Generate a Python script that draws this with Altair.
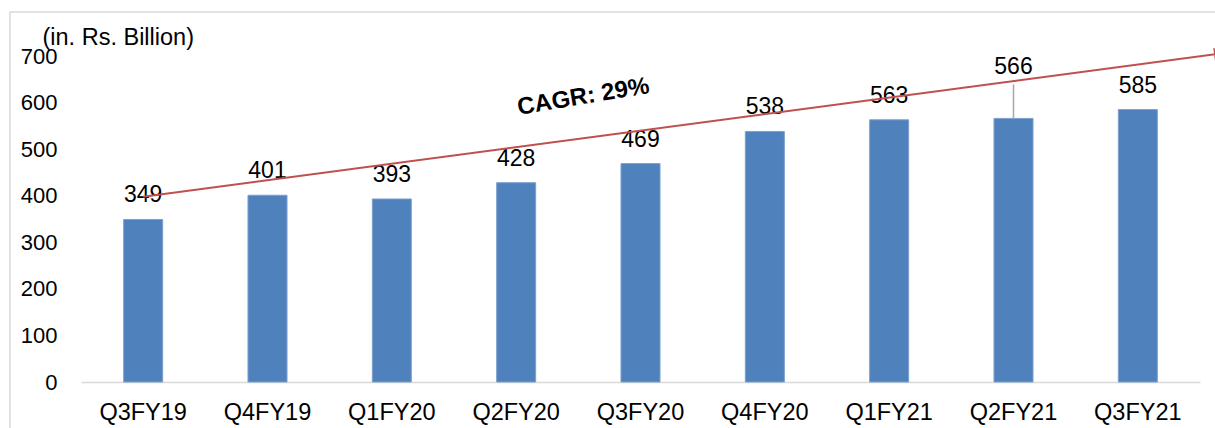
import altair as alt
import pandas as pd

# Quarterly values (Rs. Billion)
quarters = ["Q3FY19", "Q4FY19", "Q1FY20", "Q2FY20", "Q3FY20",
            "Q4FY20", "Q1FY21", "Q2FY21", "Q3FY21"]
values = [349, 401, 393, 428, 469, 538, 563, 566, 585]

# Growth arrow drawn across the bars (position on a 0..9 slot scale, value scale)
trend_pos = [0.5, 9.16]
trend_val = [398, 705]
cagr_text = "CAGR: 29%"
cagr_pos = [4.04]
cagr_val = [612]

FONT = "Liberation Sans"
BLUE = "#4F81BD"
RED = "#C0504D"
GREY = "#D9D9D9"

W, H = 1119, 326
PAD_L, PAD_T = 81, 56

bars_df = pd.DataFrame({"quarter": quarters, "value": values})
trend_df = pd.DataFrame({"pos": trend_pos, "value": trend_val})
cagr_df = pd.DataFrame({"pos": cagr_pos, "value": cagr_val, "label": [cagr_text]})

x_band = alt.X(
    "quarter:N", sort=quarters, title=None,
    scale=alt.Scale(paddingInner=0.686, paddingOuter=0.343),
    axis=alt.Axis(labelAngle=0, ticks=False, tickSize=0, labelPadding=18,
                  domainColor=GREY, domainWidth=1.5, labelFont=FONT,
                  labelFontSize=23.5, labelColor="black", grid=False),
)
y_val = alt.Y(
    "value:Q", title="(in. Rs. Billion)",
    scale=alt.Scale(domain=[0, 700], nice=False),
    axis=alt.Axis(values=list(range(0, 701, 100)), ticks=False, tickSize=0,
                  domain=False, grid=False, labelPadding=24, labelFont=FONT,
                  labelFontSize=22, labelColor="black",
                  titleAngle=0, titleAlign="left", titleBaseline="alphabetic",
                  titleX=-39, titleY=-12, titleFont=FONT, titleFontSize=23.5,
                  titleFontWeight="normal", titleColor="black"),
)

base = alt.Chart(bars_df)

bars = base.mark_bar(color=BLUE, stroke="#7EA1CE", strokeWidth=1).encode(
    x=x_band, y=y_val)

labels = base.transform_filter(alt.datum.quarter != "Q2FY21").mark_text(
    baseline="alphabetic", dy=-17, font=FONT, fontSize=23, color="black"
).encode(x=alt.X("quarter:N", sort=quarters), y="value:Q", text="value:Q")

# Label lifted above the arrow, with a leader line back to its bar
lifted = base.transform_filter(alt.datum.quarter == "Q2FY21")
lifted_label = lifted.mark_text(
    baseline="alphabetic", dy=-44, font=FONT, fontSize=23, color="black"
).encode(x=alt.X("quarter:N", sort=quarters), y="value:Q", text="value:Q")
leader = lifted.transform_calculate(top="datum.value + 73").mark_rule(
    color="#A6A6A6", strokeWidth=1.5
).encode(x=alt.X("quarter:N", sort=quarters), y="value:Q", y2="top:Q")

bar_layer = alt.layer(bars, leader, labels, lifted_label)

x_slot = alt.Scale(domain=[0, 9], nice=False, zero=False)
trend = alt.Chart(trend_df).mark_line(color=RED, strokeWidth=2, clip=False).encode(
    x=alt.X("pos:Q", scale=x_slot, axis=None),
    y="value:Q",
)
arrow_head = alt.Chart(trend_df.iloc[[1]]).mark_point(
    shape="triangle-right", filled=True, color=RED, size=180, angle=352.5,
    opacity=1, clip=False
).encode(
    x=alt.X("pos:Q", scale=x_slot, axis=None),
    y="value:Q",
)
cagr = alt.Chart(cagr_df).mark_text(
    font=FONT, fontSize=24, fontWeight="bold", color="black", angle=350.5,
    align="center", baseline="middle"
).encode(
    x=alt.X("pos:Q", scale=x_slot, axis=None),
    y="value:Q",
    text="label:N",
)
trend_layer = alt.layer(trend, arrow_head, cagr)

# Light outer frame
frame = alt.Chart(pd.DataFrame({"k": [0]})).mark_rect(
    fill=None, stroke=GREY, strokeWidth=1.5
).encode(
    x=alt.value(10 - PAD_L), x2=alt.value(1215 + 20),
    y=alt.value(12 - PAD_T), y2=alt.value(428),
)

chart = alt.layer(frame, bar_layer, trend_layer).resolve_scale(
    x="independent", y="shared"
).properties(
    width=W, height=H,
    autosize=alt.AutoSizeParams(type="none"),
    padding={"left": PAD_L, "top": PAD_T, "right": 1215 - PAD_L - W,
             "bottom": 428 - PAD_T - H},
    background="white",
).configure_view(stroke=None)

chart.save("out.html", embed_options={"renderer": "svg", "actions": False})
